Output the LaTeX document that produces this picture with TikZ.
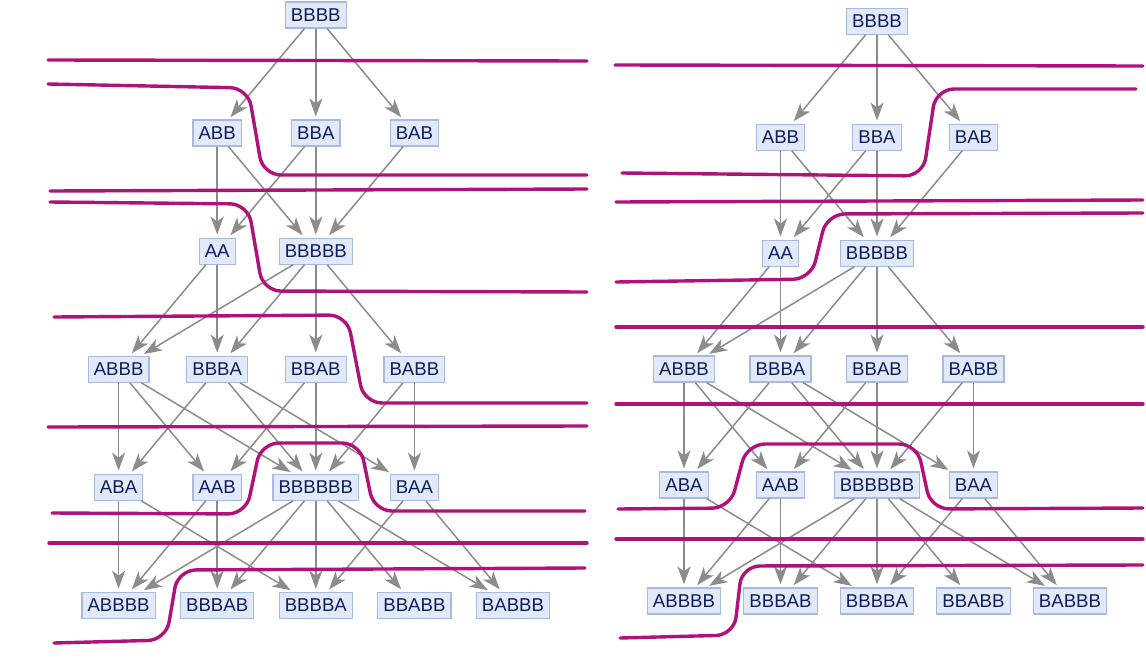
\documentclass[tikz,border=0pt]{standalone}
\usepackage{fontspec}
\setmainfont{Liberation Sans}
\usetikzlibrary{arrows.meta}
\definecolor{nodefill}{HTML}{E2EAF9}
\definecolor{nodeline}{HTML}{A6B9E2}
\definecolor{nodetext}{HTML}{0D1E62}
\definecolor{edgegray}{HTML}{8C8C8C}
\definecolor{cutmag}{HTML}{B0127A}
\tikzset{
  nd/.style={draw=nodeline, fill=nodefill, text=nodetext, line width=1.2pt,
    font=\fontsize{18.6}{18.6}\selectfont, minimum height=26pt, text height=13.3pt,
    text depth=0pt, inner ysep=0pt, inner xsep=5.6pt, outer sep=0.6pt},
  ed/.style={draw=edgegray, line width=1.5pt,
    -{Stealth[length=18pt,width=13pt,inset=5pt]}, shorten >=3pt},
  cut/.style={draw=cutmag, line width=3.4pt, rounded corners=18pt, line cap=round}
}
\newcommand{\mkpanel}[5]{%
  % #1 prefix, #2 x of column 0, #3 y of row 0, #4 column step, #5 row step
  \node[nd] (#1BBBB)   at ({#2+2*#4},{#3}) {BBBB};
  \node[nd] (#1ABB)    at ({#2+1*#4},{#3+1*#5}) {ABB};
  \node[nd] (#1BBA)    at ({#2+2*#4},{#3+1*#5}) {BBA};
  \node[nd] (#1BAB)    at ({#2+3*#4},{#3+1*#5}) {BAB};
  \node[nd] (#1AA)     at ({#2+1*#4},{#3+2*#5}) {AA};
  \node[nd] (#1BBBBB)  at ({#2+2*#4},{#3+2*#5}) {BBBBB};
  \node[nd] (#1ABBB)   at ({#2+0*#4},{#3+3*#5}) {ABBB};
  \node[nd] (#1BBBA)   at ({#2+1*#4},{#3+3*#5}) {BBBA};
  \node[nd] (#1BBAB)   at ({#2+2*#4},{#3+3*#5}) {BBAB};
  \node[nd] (#1BABB)   at ({#2+3*#4},{#3+3*#5}) {BABB};
  \node[nd] (#1ABA)    at ({#2+0*#4},{#3+4*#5}) {ABA};
  \node[nd] (#1AAB)    at ({#2+1*#4},{#3+4*#5}) {AAB};
  \node[nd] (#1BBBBBB) at ({#2+2*#4},{#3+4*#5}) {BBBBBB};
  \node[nd] (#1BAA)    at ({#2+3*#4},{#3+4*#5}) {BAA};
  \node[nd] (#1ABBBB)  at ({#2+0*#4},{#3+5*#5}) {ABBBB};
  \node[nd] (#1BBBAB)  at ({#2+1*#4},{#3+5*#5}) {BBBAB};
  \node[nd] (#1BBBBA)  at ({#2+2*#4},{#3+5*#5}) {BBBBA};
  \node[nd] (#1BBABB)  at ({#2+3*#4},{#3+5*#5}) {BBABB};
  \node[nd] (#1BABBB)  at ({#2+4*#4},{#3+5*#5}) {BABBB};
  \foreach \a/\b in {BBBB/ABB,BBBB/BBA,BBBB/BAB,
      ABB/AA,ABB/BBBBB,BBA/AA,BBA/BBBBB,BAB/BBBBB,
      AA/ABBB,AA/BBBA,BBBBB/ABBB,BBBBB/BBBA,BBBBB/BBAB,BBBBB/BABB,
      ABBB/ABA,ABBB/AAB,ABBB/BBBBBB,BBBA/ABA,BBBA/BBBBBB,BBBA/BAA,
      BBAB/AAB,BBAB/BBBBBB,BABB/BBBBBB,BABB/BAA,
      ABA/ABBBB,ABA/BBBBA,AAB/ABBBB,AAB/BBBAB,
      BBBBBB/ABBBB,BBBBBB/BBBAB,BBBBBB/BBBBA,BBBBBB/BBABB,BBBBBB/BABBB,
      BAA/BBBBA,BAA/BABBB}
    {\draw[ed] (#1\a) -- (#1\b);}
}
\begin{document}
\begin{tikzpicture}[x=1pt,y=-1pt]
\useasboundingbox[fill=white] (0,0) rectangle (1146,672);
\mkpanel{L}{118.6}{15}{98.6}{118.06}
\mkpanel{R}{684}{21.2}{96.5}{115.96}
% left panel cuts
\draw[cut] (48,60) -- (587,61);
\draw[cut] (48,84) -- (248,88) -- (263,175) -- (587,175);
\draw[cut] (50,191) -- (587,189);
\draw[cut] (50,202) -- (248,204) -- (263,291) -- (587,292);
\draw[cut] (54,317) -- (347,315) -- (364,403) -- (587,403);
\draw[cut] (48,427) -- (587,426);
\draw[cut] (52,513) -- (246,514) -- (261,443) -- (360,443) -- (374,511) -- (585,511);
\draw[cut] (49,543) -- (587,543);
\draw[cut] (54,643) -- (166,640) -- (178,570) -- (585,568);
% right panel cuts
\draw[cut] (615,65) -- (1143,66);
\draw[cut] (622,173) -- (923,176) -- (936,89) -- (1136,89);
\draw[cut] (616,202) -- (1143,200);
\draw[cut] (616,282) -- (811,279) -- (827,214) -- (1143,213);
\draw[cut] (616,327) -- (1143,327);
\draw[cut] (616,404) -- (1143,404);
\draw[cut] (618,509) -- (730,508) -- (747,444) -- (917,444) -- (931,509) -- (1143,508);
\draw[cut] (616,539) -- (1143,539);
\draw[cut] (620,638) -- (734,635) -- (742,566) -- (1143,565);
\end{tikzpicture}
\end{document}
